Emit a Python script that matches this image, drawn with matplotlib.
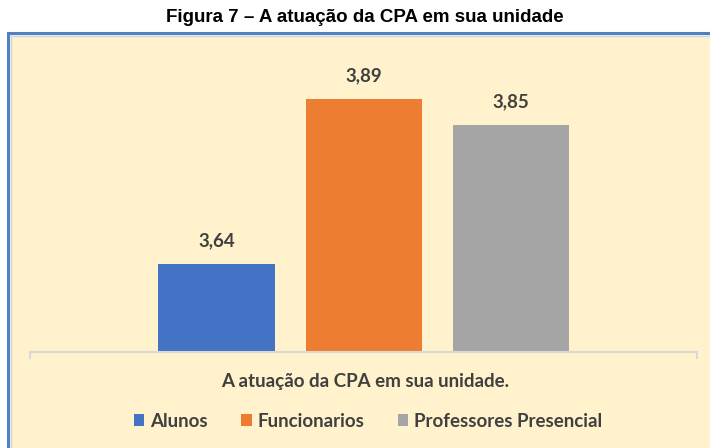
import matplotlib
matplotlib.use("Agg")
import matplotlib.pyplot as plt
from matplotlib.patches import Rectangle, Patch

categories = ["Alunos", "Funcionarios", "Professores Presencial"]
values = [3.64, 3.89, 3.85]
value_labels = ["3,64", "3,89", "3,85"]
colors = ["#4472C4", "#ED7D31", "#A5A5A5"]
axis_label = "A atuação da CPA em sua unidade."
title = "Figura 7 – A atuação da CPA em sua unidade"

W, H = 710, 448
fig = plt.figure(figsize=(W / 100, H / 100), dpi=100)
fig.patch.set_facecolor("white")

# panel with double border
panel = Rectangle((8 / W, -0.05), 1.1, (H - 33.5) / H + 0.05, transform=fig.transFigure,
                  facecolor="#FFF2CC", edgecolor="#4F7FC6", linewidth=2.2, zorder=-10)
fig.patches.append(panel)
inner = Rectangle((10.8 / W, -0.05), 1.1, (H - 36) / H + 0.05, transform=fig.transFigure,
                  facecolor="none", edgecolor="#C9D6EA", linewidth=1.0, zorder=-9)
fig.patches.append(inner)

fig.text(365 / W, 1 - 18 / H, title, ha="center", va="center",
         fontsize=13.5, fontweight="bold", family="Liberation Sans", color="black")

ax_left, ax_right = 30 / W, 697 / W
ax_bottom, ax_top = (H - 351.5) / H, (H - 40) / H
ax = fig.add_axes([ax_left, ax_bottom, ax_right - ax_left, ax_top - ax_bottom])
ax.set_facecolor("none")
ax.set_zorder(5)

ymin = 3.507
x = list(range(len(values)))
bars = ax.bar(x, [v - ymin for v in values], bottom=ymin, width=0.788, color=colors, zorder=2)
ax.set_ylim(ymin, ymin + 311.5 / 660)
ax.set_xlim(-1.266, 3.262)

for xi, v, lab in zip(x, values, value_labels):
    ax.annotate(lab, (xi, v), xytext=(0, 10.5), textcoords="offset points",
                ha="center", va="bottom", fontsize=13.5, fontweight="bold",
                family="Lato", color="#404040")

for s in ["top", "right", "left"]:
    ax.spines[s].set_visible(False)
ax.spines["bottom"].set_color("#D9D9D9")
ax.spines["bottom"].set_linewidth(1.5)
ax.set_yticks([])
ax.set_xticks([-1.266, 3.262])
ax.set_xticklabels(["", ""])
ax.tick_params(axis="x", length=5, color="#D9D9D9", width=1.5)

fig.text(365 / W, 1 - 381 / H, axis_label, ha="center", va="center",
         fontsize=13.5, fontweight="bold", family="Lato", color="#404040")

handles = [Patch(facecolor=c, edgecolor="none") for c in colors]
leg = fig.legend(handles, categories, loc="center", bbox_to_anchor=(368 / W, 1 - 421 / H),
                 ncol=3, frameon=False, handlelength=0.55, handleheight=0.6,
                 handletextpad=0.3, columnspacing=1.8,
                 prop={"family": "Lato", "weight": "bold", "size": 13.5})
for t in leg.get_texts():
    t.set_color("#404040")

fig.savefig("out.png", dpi=100, facecolor=fig.get_facecolor())
